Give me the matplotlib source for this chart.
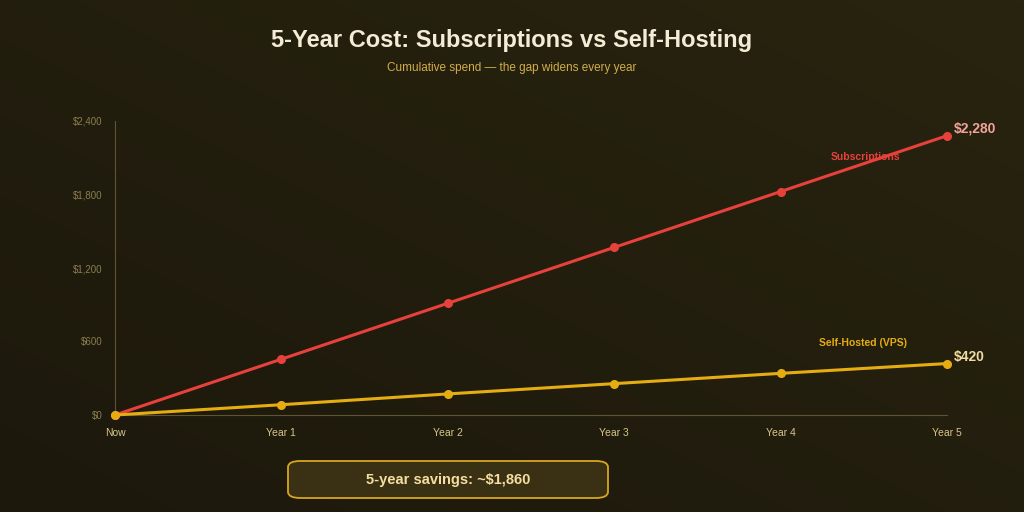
import matplotlib
matplotlib.use("Agg")
import matplotlib.pyplot as plt
from matplotlib.patches import FancyBboxPatch
import numpy as np

plt.rcParams['font.family'] = ['Liberation Sans', 'DejaVu Sans']

labels = ["Now", "Year 1", "Year 2", "Year 3", "Year 4", "Year 5"]
subs = [0, 456, 912, 1368, 1824, 2280]
selfh = [0, 84, 172, 256, 340, 420]
yticks = [0, 600, 1200, 1800, 2400]

W, H = 1024, 512
fig = plt.figure(figsize=(W/100, H/100), dpi=100)
bg = fig.add_axes([0, 0, 1, 1])
grad = np.linspace(0, 1, 256)
g = np.add.outer(grad[::-1], grad) / 2
bg.imshow(g, cmap=matplotlib.colors.LinearSegmentedColormap.from_list("b", ["#1c180c", "#29240f"]),
          extent=[0, 1, 0, 1], aspect="auto")
bg.axis("off")

ax = fig.add_axes([115/W, 1-415/H, (947-115)/W, (415-121)/H])
ax.patch.set_alpha(0)
x = np.arange(len(labels))
ax.plot(x, subs, color="#e8413c", lw=2.2, marker="o", ms=5.5, zorder=3, clip_on=False)
ax.plot(x, selfh, color="#e6ad12", lw=2.2, marker="o", ms=5.5, zorder=3, clip_on=False)
ax.set_xlim(0, 5)
ax.set_ylim(0, 2400)
ax.set_xticks(x, labels)
ax.set_yticks(yticks, [f"${v:,}" for v in yticks])
ax.tick_params(length=0, pad=9)
for t in ax.get_xticklabels():
    t.set_color("#d9c58a"); t.set_fontsize(7.5)
for t in ax.get_yticklabels():
    t.set_color("#8a7d4e"); t.set_fontsize(7)
for s in ["top", "right"]:
    ax.spines[s].set_visible(False)
for s in ["left", "bottom"]:
    ax.spines[s].set_color("#5e5432")
ax.text(5.04, subs[-1], f"${subs[-1]:,}", color="#f2a39b", fontsize=10, fontweight="bold", va="bottom")
ax.text(5.04, selfh[-1], f"${selfh[-1]:,}", color="#f0dca0", fontsize=10, fontweight="bold", va="bottom")
ax.text(4.72, 2080, "Subscriptions", color="#e8413c", fontsize=7.5, fontweight="bold", ha="right")
ax.text(4.76, 560, "Self-Hosted (VPS)", color="#e6ad12", fontsize=7.5, fontweight="bold", ha="right")

fig.text(0.5, 1-40/H, "5-Year Cost: Subscriptions vs Self-Hosting", ha="center", va="center",
         color="#f5ecd5", fontsize=17, fontweight="bold")
fig.text(0.5, 1-68/H, "Cumulative spend — the gap widens every year", ha="center", va="center",
         color="#d2ad4a", fontsize=8.5)
box = FancyBboxPatch((288/W, 1-498/H), 320/W, 37/H, boxstyle="round,pad=0,rounding_size=0.012",
                     transform=fig.transFigure, facecolor="#3a3114", edgecolor="#d9a520", lw=1.3)
fig.add_artist(box)
fig.text(448/W, 1-480/H, "5-year savings: ~$1,860", ha="center", va="center", color="#f5dfa0",
         fontsize=10.5, fontweight="bold")
fig.savefig("out.png", dpi=100)
